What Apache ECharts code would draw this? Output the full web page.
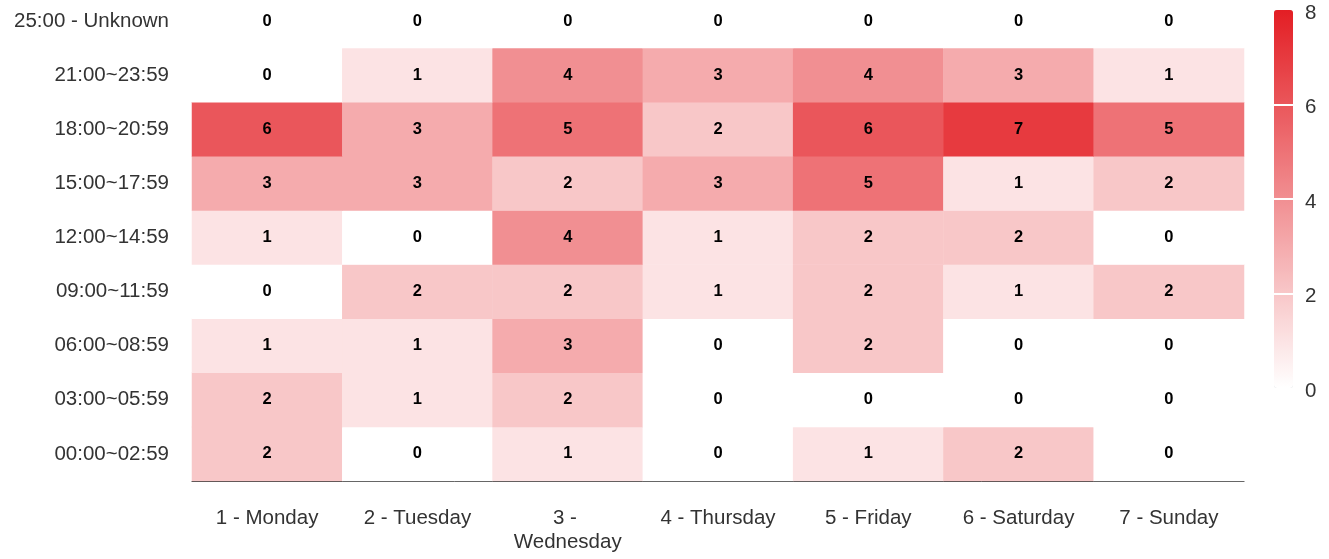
<!DOCTYPE html>
<html>
<head>
<meta charset="utf-8">
<script src="https://cdn.jsdelivr.net/npm/echarts@6/dist/echarts.min.js"></script>
<style>
  html, body { margin: 0; padding: 0; background: #fff; }
  #heat { width: 1329px; height: 559px; }
</style>
</head>
<body>
<div id="heat"></div>
<script>
var days = ['1 - Monday', '2 - Tuesday', '3 - Wednesday', '4 - Thursday', '5 - Friday', '6 - Saturday', '7 - Sunday'];
var slots = ['00:00~02:59', '03:00~05:59', '06:00~08:59', '09:00~11:59', '12:00~14:59',
             '15:00~17:59', '18:00~20:59', '21:00~23:59', '25:00 - Unknown'];

// one row per time slot (bottom to top), Monday..Sunday
var r0000 = [2, 0, 1, 0, 1, 2, 0];
var r0300 = [2, 1, 2, 0, 0, 0, 0];
var r0600 = [1, 1, 3, 0, 2, 0, 0];
var r0900 = [0, 2, 2, 1, 2, 1, 2];
var r1200 = [1, 0, 4, 1, 2, 2, 0];
var r1500 = [3, 3, 2, 3, 5, 1, 2];
var r1800 = [6, 3, 5, 2, 6, 7, 5];
var r2100 = [0, 1, 4, 3, 4, 3, 1];
var rUnknown = [0, 0, 0, 0, 0, 0, 0];
var rows = [r0000, r0300, r0600, r0900, r1200, r1500, r1800, r2100, rUnknown];

var scaleMin = 0, scaleMax = 8, scaleStep = 2;

var cells = [];
for (var y = 0; y < rows.length; y++) {
    for (var x = 0; x < days.length; x++) {
        cells.push([x, y, rows[y][x]]);
    }
}

var chart = echarts.init(document.getElementById('heat'));
var option = {
    animation: false,
    textStyle: { fontFamily: '"Liberation Sans", Arial, sans-serif' },
    grid: [
        { left: 192, right: 85, top: -6, bottom: 78, outerBoundsMode: 'none' },
        { left: 1274, top: 10, width: 19, height: 378, outerBoundsMode: 'none' }
    ],
    xAxis: [{
        type: 'category',
        data: days,
        gridIndex: 0,
        axisTick: { show: false },
        axisLine: { lineStyle: { color: '#333', width: 1 } },
        axisLabel: {
            color: '#333',
            fontSize: 20.5,
            margin: 25,
            lineHeight: 24,
            width: 132,
            overflow: 'break',
            interval: 0
        }
    }, {
        type: 'value',
        gridIndex: 1,
        min: 0,
        max: 1,
        show: false
    }],
    yAxis: [{
        type: 'category',
        data: slots,
        gridIndex: 0,
        axisTick: { show: false },
        axisLine: { show: false },
        axisLabel: { color: '#333', fontSize: 20.5, margin: 23 }
    }, {
        type: 'value',
        gridIndex: 1,
        position: 'right',
        min: scaleMin,
        max: scaleMax,
        interval: scaleStep,
        z: 10,
        axisLine: { show: false },
        axisTick: { show: false },
        axisLabel: { color: '#333', fontSize: 20.5, margin: 12, verticalAlign: 'top', lineHeight: 6 },
        splitLine: {
            show: true,
            showMinLine: false,
            showMaxLine: false,
            lineStyle: { color: '#ffffff', width: 2 }
        }
    }],
    visualMap: {
        type: 'continuous',
        min: scaleMin,
        max: scaleMax,
        calculable: false,
        left: 1274,
        top: 10,
        padding: 0,
        itemWidth: 19,
        itemHeight: 378,
        showLabel: false,
        seriesIndex: 0,
        inRange: { color: ['#ffffff', '#e31e24'] }
    },
    series: [{
        type: 'heatmap',
        data: cells,
        xAxisIndex: 0,
        yAxisIndex: 0,
        label: {
            show: true,
            color: '#000',
            fontWeight: 'bold',
            fontSize: 16.5
        },
        emphasis: { disabled: true }
    }]
};
chart.setOption(option);
</script>
</body>
</html>
